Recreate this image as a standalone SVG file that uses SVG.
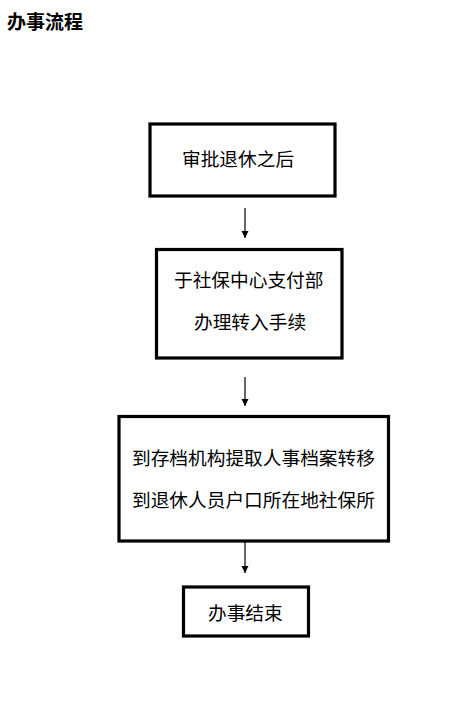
<svg xmlns="http://www.w3.org/2000/svg" width="452" height="711" viewBox="0 0 452 711">
<style>
.box{fill:#fff;stroke:#000;stroke-width:3.2}
.t{font-family:"Noto Sans CJK SC","Noto Sans",sans-serif;font-size:18.7px;fill:#000}
.title{font-family:"Noto Sans CJK SC","Noto Sans",sans-serif;font-size:19px;font-weight:bold;fill:#000}
.conn{stroke:#000;stroke-width:1.2;fill:none}
</style>
<defs>
<marker id="ah" markerWidth="8" markerHeight="8" refX="7" refY="3.5" orient="auto" markerUnits="userSpaceOnUse">
<path d="M0,0 L7,3.5 L0,7 Z" fill="#000"/>
</marker>
</defs>
<rect width="452" height="711" fill="#fff"/>
<text class="title" x="7" y="29">办事流程</text>
<g id="connectors">
<line class="conn" x1="245" y1="208" x2="245" y2="238" marker-end="url(#ah)"/>
<line class="conn" x1="245" y1="377" x2="245" y2="406" marker-end="url(#ah)"/>
<line class="conn" x1="245" y1="542" x2="245" y2="573" marker-end="url(#ah)"/>
</g>
<g id="n1">
<rect class="box" x="150" y="124" width="185" height="72"/>
<text class="t" x="182" y="165.5">审批退休之后</text>
</g>
<g id="n2">
<rect class="box" x="156.5" y="249.5" width="185.5" height="108.5"/>
<text class="t" x="174" y="287">于社保中心支付部</text>
<text class="t" x="194" y="329">办理转入手续</text>
</g>
<g id="n3">
<rect class="box" x="119" y="416.5" width="269.5" height="124.5"/>
<text class="t" x="132" y="465">到存档机构提取人事档案转移</text>
<text class="t" x="132" y="506.5">到退休人员户口所在地社保所</text>
</g>
<g id="n4">
<rect class="box" x="183.5" y="587" width="125" height="49"/>
<text class="t" x="208" y="620">办事结束</text>
</g>
</svg>
